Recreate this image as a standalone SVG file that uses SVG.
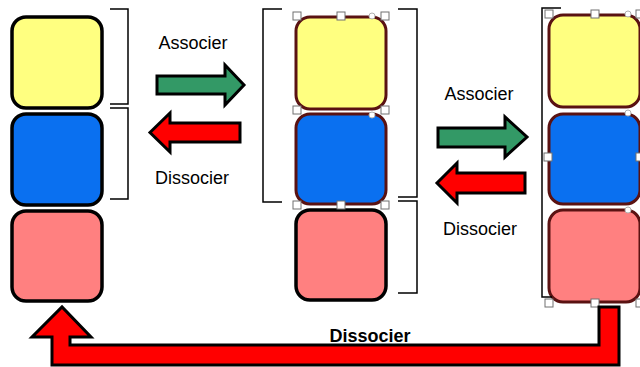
<svg xmlns="http://www.w3.org/2000/svg" width="640" height="367" viewBox="0 0 640 367">
<style>
.box{stroke:#000;stroke-width:3.5}
.sel{stroke:#5a1212;stroke-width:3}
.y{fill:#ffff80}
.b{fill:#0a70f0}
.p{fill:#ff8080}
.br{fill:none;stroke:#000;stroke-width:1.5}
.h{fill:#fff;stroke:#707070;stroke-width:1}
.rot{fill:#fff;stroke:#b0b0b0;stroke-width:1}
.arr{stroke:#000;stroke-width:3;stroke-linejoin:miter}
.g{fill:#339966}
.r{fill:#ff0000}
.t{font-family:"Liberation Sans",Arial,sans-serif;font-size:18px;fill:#000;text-anchor:middle}
</style>
<rect width="640" height="367" fill="#fff"/>
<g id="left-column">
<rect class="box y" x="12" y="17" width="90" height="91" rx="14"/>
<rect class="box b" x="12" y="114" width="90" height="91" rx="14"/>
<rect class="box p" x="12" y="211" width="90" height="90" rx="14"/>
<path class="br" d="M110 9H128V104H110M110 108H128V199H110"/>
</g>
<g id="middle-column">
<rect class="sel y" x="296" y="17" width="90" height="92" rx="14"/>
<rect class="sel b" x="296" y="114" width="90" height="90" rx="14"/>
<rect class="box p" x="296" y="210" width="90" height="90" rx="14"/>
<path class="br" d="M282 9H263V202H282M398 9H417V197H398M398 201H417V293H398"/>
<rect class="h" x="293" y="12" width="8" height="8"/>
<rect class="h" x="337" y="12" width="8" height="8"/>
<rect class="h" x="381" y="12" width="8" height="8"/>
<rect class="h" x="293" y="106" width="8" height="8"/>
<rect class="h" x="381" y="106" width="8" height="8"/>
<rect class="h" x="293" y="201" width="8" height="8"/>
<rect class="h" x="337" y="201" width="8" height="8"/>
<rect class="h" x="381" y="201" width="8" height="8"/>
<circle class="rot" cx="372" cy="16" r="3"/>
<circle class="rot" cx="372" cy="115" r="3"/>
</g>
<g id="right-column">
<rect class="sel y" x="549" y="15" width="91" height="92" rx="14"/>
<rect class="sel b" x="549" y="114" width="91" height="90" rx="14"/>
<rect class="sel p" x="549" y="210" width="91" height="92" rx="14"/>
<path class="br" d="M561 8H542V297H552"/>
<rect class="h" x="545" y="10" width="8" height="8"/>
<rect class="h" x="591" y="10" width="8" height="8"/>
<rect class="h" x="636" y="10" width="8" height="8"/>
<rect class="h" x="544" y="153" width="8" height="8"/>
<rect class="h" x="636" y="153" width="8" height="8"/>
<rect class="h" x="545" y="299" width="8" height="8"/>
<rect class="h" x="591" y="299" width="8" height="8"/>
<rect class="h" x="636" y="299" width="8" height="8"/>
<circle class="rot" cx="628" cy="14" r="3"/>
<circle class="rot" cx="628" cy="113" r="3"/>
<circle class="rot" cx="628" cy="210" r="3"/>
</g>
<g id="connectors">
<polygon class="arr g" points="157,76 225,76 225,65 244,85 225,105 225,94 157,94"/>
<polygon class="arr r" points="240,123 170,123 170,113 150,132.5 170,152 170,142 240,142"/>
<polygon class="arr g" points="438,128 505,128 505,117 527,137 505,157 505,147 438,147"/>
<polygon class="arr r" points="525,173 457,173 457,163 437,183 457,203 457,193 525,193"/>
<polygon class="arr r" points="599,307 619,307 619,365 52,365 52,337 32,337 62,307 91,337 70,337 70,345 599,345"/>
</g>
<g id="labels">
<text class="t" x="193" y="49">Associer</text>
<text class="t" x="192" y="184">Dissocier</text>
<text class="t" x="479" y="100">Associer</text>
<text class="t" x="480" y="235">Dissocier</text>
<text class="t" x="370" y="342" font-weight="bold">Dissocier</text>
</g>
</svg>
